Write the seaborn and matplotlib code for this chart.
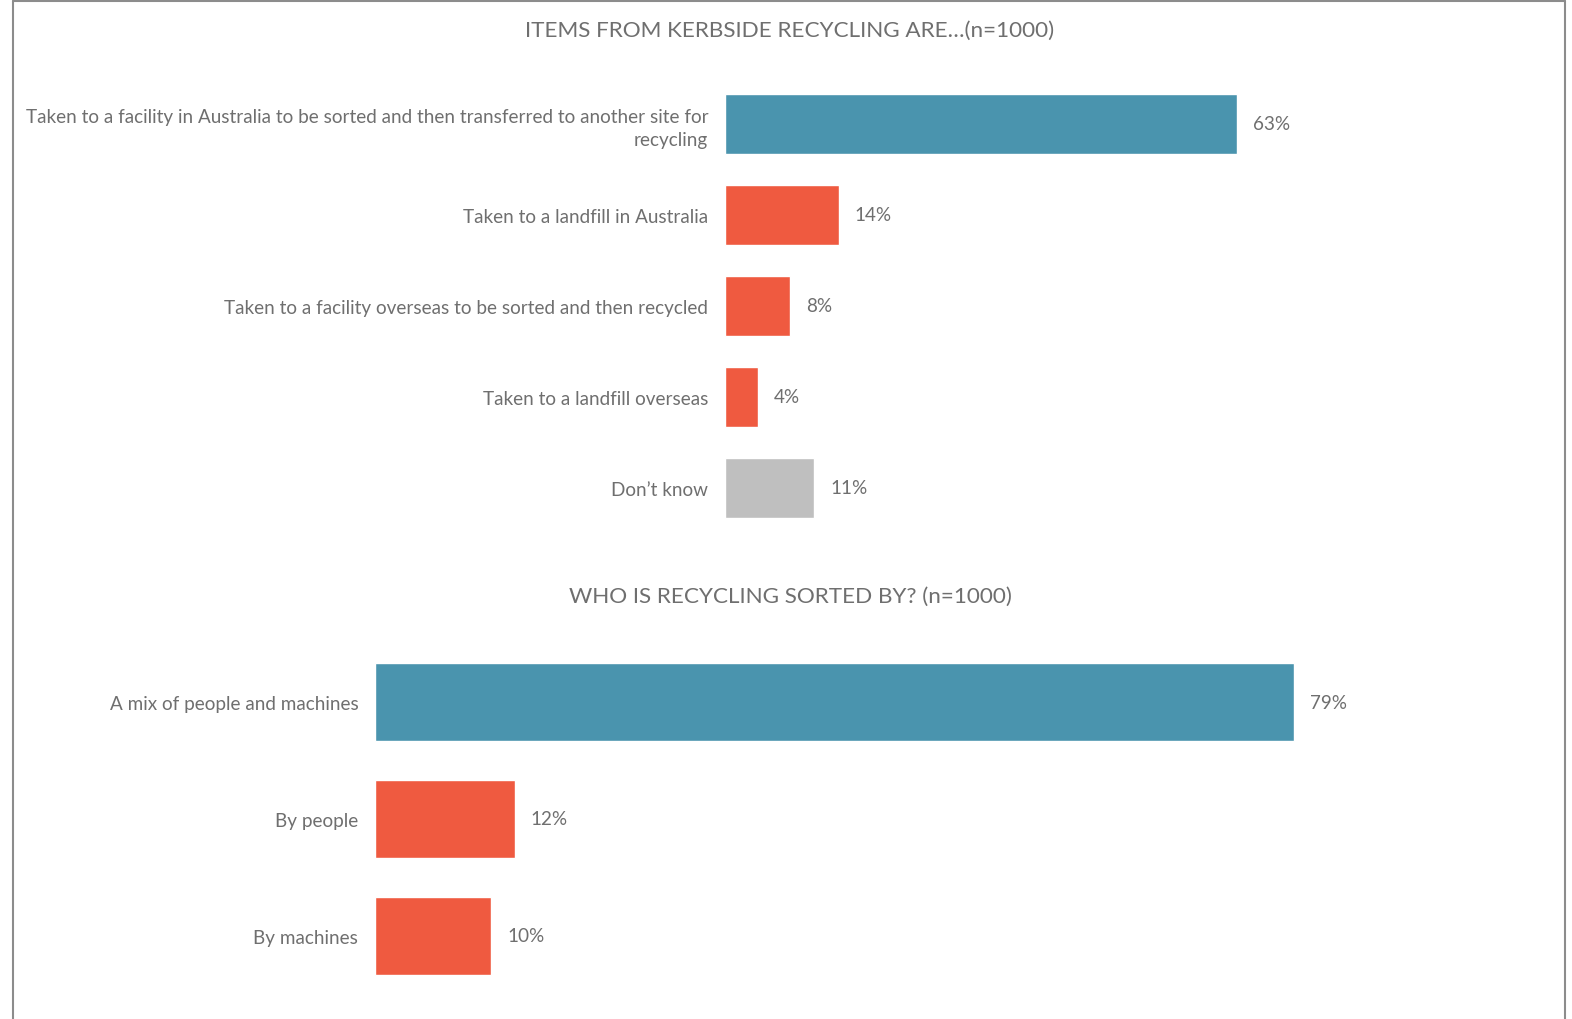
import matplotlib
matplotlib.use('Agg')
import matplotlib.pyplot as plt
from matplotlib.lines import Line2D
import seaborn as sns

sns.set_theme(style='white')
plt.rcParams['font.family'] = ['Lato', 'DejaVu Sans']

TEXT = '#6f6f6f'
TEAL = '#4a94ae'
RED = '#ef5a40'
GREY = '#bfbfbf'

top_title = 'ITEMS FROM KERBSIDE RECYCLING ARE\u2026(n=1000)'
top_labels = [
    'Taken to a facility in Australia to be sorted and then transferred to another site for\nrecycling',
    'Taken to a landfill in Australia',
    'Taken to a facility overseas to be sorted and then recycled',
    'Taken to a landfill overseas',
    'Don\u2019t know',
]
top_values = [63, 14, 8, 4, 11]
top_colors = [TEAL, RED, RED, RED, GREY]

bottom_title = 'WHO IS RECYCLING SORTED BY? (n=1000)'
bottom_labels = ['A mix of people and machines', 'By people', 'By machines']
bottom_values = [79, 12, 10]
bottom_colors = [TEAL, RED, RED]

W, H = 1572, 1020
fig = plt.figure(figsize=(W / 100, H / 100), dpi=100)


def px_axes(left, top, right, bottom):
    return fig.add_axes([left / W, 1 - bottom / H, (right - left) / W, (bottom - top) / H])


def draw_bars(ax, labels, values, colors):
    sns.barplot(x=values, y=labels, hue=labels, palette=colors, legend=False,
                orient='h', width=0.67, ax=ax, saturation=1)
    ax.set_xlim(0, 100)
    ax.set_ylim(len(labels) - 0.5, -0.5)
    for i, v in enumerate(values):
        ax.annotate(f'{v}%', xy=(v, i), xytext=(11.5, 0), textcoords='offset points',
                    ha='left', va='center', fontsize=13.6, color=TEXT)
    ax.set_xticks([])
    ax.set_xlabel('')
    ax.set_ylabel('')
    ax.tick_params(axis='y', length=0, pad=12, labelsize=13.6, labelcolor=TEXT)
    for lbl in ax.get_yticklabels():
        lbl.set_horizontalalignment('right')
        lbl.set_multialignment('right')
        lbl.set_linespacing(1.4)
    sns.despine(ax=ax, left=True, bottom=True)


ax1 = px_axes(725, 79.5, 1538, 534.5)
draw_bars(ax1, top_labels, top_values, top_colors)

ax2 = px_axes(375, 645, 1538, 995)
draw_bars(ax2, bottom_labels, bottom_values, bottom_colors)

fig.text(790 / W, 1 - 31 / H, top_title, ha='center', va='center', fontsize=16.2, color=TEXT)
fig.text(790 / W, 1 - 597 / H, bottom_title, ha='center', va='center', fontsize=16.2, color=TEXT)

# frame around the slide
border = dict(color='#8c8c8c', linewidth=1.5, transform=fig.transFigure)
fig.add_artist(Line2D([13 / W, 13 / W], [0, 1 - 2 / H], **border))
fig.add_artist(Line2D([13 / W, 1565 / W], [1 - 2 / H, 1 - 2 / H], **border))
fig.add_artist(Line2D([1565 / W, 1565 / W], [0, 1 - 2 / H], **border))

fig.savefig('out.png', dpi=100)
